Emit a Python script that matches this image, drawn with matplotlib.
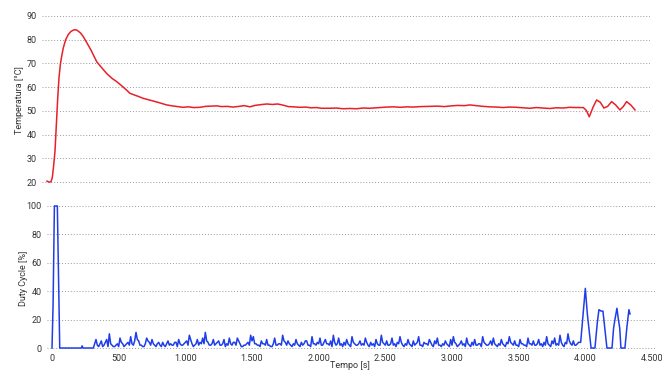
import matplotlib
matplotlib.use("Agg")
import matplotlib.pyplot as plt
from matplotlib.ticker import FuncFormatter
import numpy as np

# temperature trace [s], [°C]
temp_t = [0, 15, 30, 40, 50, 60, 70, 80, 90, 100, 110, 122, 140, 160, 180, 200, 215, 230,
          250, 272, 300, 330, 373, 410, 450, 490, 523, 560, 600, 622, 660, 690, 720, 760,
          800, 850, 898, 940, 980, 1020, 1060, 1100, 1147, 1190, 1230, 1273, 1310, 1350,
          1397, 1440, 1480, 1522, 1560, 1600, 1648, 1690, 1730, 1772, 1810, 1850, 1897,
          1940, 1980, 2020, 2060, 2122, 2170, 2220, 2270, 2323, 2370, 2420, 2497, 2550,
          2600, 2650, 2700, 2747, 2800, 2872, 2930, 2980, 3030, 3080, 3130, 3172, 3220,
          3270, 3320, 3373, 3420, 3470, 3520, 3570, 3622, 3670, 3720, 3770, 3820, 3872,
          3920, 3970, 4022, 4045, 4067, 4095, 4122, 4150, 4177, 4205, 4235, 4265, 4297,
          4322, 4347, 4380, 4410]
temp_v = [20.4, 20.0, 20.1, 22.0, 27.0, 33.0, 44.0, 55.0, 64.0, 69.5, 73.0, 76.5, 80.0,
          82.2, 83.5, 84.1, 84.2, 83.8, 82.9, 81.3, 78.6, 75.6, 70.7, 68.2, 65.6, 63.6,
          62.3, 60.6, 58.6, 57.4, 56.6, 56.0, 55.3, 54.7, 54.1, 53.3, 52.5, 52.1, 51.8,
          51.5, 51.7, 51.4, 51.5, 51.9, 52.0, 52.1, 51.8, 51.9, 51.6, 51.9, 52.2, 51.7,
          52.3, 52.6, 52.9, 52.7, 52.9, 52.4, 51.8, 51.7, 51.5, 51.6, 51.3, 51.4, 51.1,
          51.1, 51.2, 50.9, 51.0, 50.9, 51.2, 51.1, 51.4, 51.6, 51.7, 51.5, 51.7, 51.6,
          51.8, 51.9, 52.0, 51.8, 52.1, 52.3, 52.2, 52.5, 52.2, 51.9, 51.7, 51.6, 51.4,
          51.6, 51.5, 51.3, 51.1, 51.4, 51.2, 51.0, 51.3, 51.2, 51.5, 51.4, 51.4, 50.2,
          47.5, 51.5, 54.6, 53.6, 51.2, 51.9, 53.9, 52.5, 50.4, 51.8, 53.9, 52.4, 50.4]

# duty cycle [%]: start pulse, noisy regulation band, final oscillation
duty_start_t = [0, 8, 18, 40, 58, 80, 220, 226, 232, 310]
duty_start_v = [0, 30, 100, 100, 0, 0, 0, 1.5, 0, 0]

# regulation band, one sample every 10 s from 330 s
duty_mid_t0 = 330
duty_mid_dt = 10
duty_mid = [6, 2, 1, 3, 5, 1, 2, 4, 6, 1, 10, 3, 2, 1, 1, 2, 3, 1, 7, 4,
            3, 1, 2, 3, 4, 2, 8, 3, 2, 5, 11, 6, 5, 2, 2, 1, 1, 3, 7, 5,
            4, 2, 6, 3, 2, 1, 3, 4, 2, 1, 4, 2, 1, 3, 5, 2, 3, 2, 2, 4,
            4, 1, 6, 3, 2, 2, 3, 4, 5, 2, 9, 6, 3, 1, 2, 3, 6, 2, 4, 3,
            7, 3, 11, 5, 4, 2, 2, 3, 6, 2, 3, 4, 5, 2, 2, 3, 6, 1, 3, 2,
            7, 3, 2, 4, 4, 2, 7, 5, 3, 1, 1, 2, 2, 3, 4, 2, 9, 5, 8, 3,
            3, 2, 2, 1, 5, 3, 3, 2, 6, 2, 2, 1, 1, 3, 7, 2, 2, 3, 3, 2,
            9, 5, 4, 2, 5, 3, 2, 1, 3, 2, 6, 3, 2, 1, 4, 2, 3, 5, 5, 2,
            2, 1, 8, 3, 3, 2, 4, 3, 7, 2, 2, 4, 6, 3, 3, 2, 5, 1, 9, 4,
            2, 3, 7, 2, 3, 1, 4, 2, 6, 3, 2, 1, 8, 4, 3, 2, 2, 3, 5, 2,
            3, 2, 7, 4, 2, 1, 4, 2, 3, 1, 6, 3, 2, 2, 9, 4, 3, 2, 5, 2,
            2, 3, 7, 2, 3, 1, 4, 3, 8, 4, 2, 1, 3, 2, 6, 3, 2, 1, 5, 2,
            3, 4, 8, 2, 2, 1, 4, 3, 3, 2, 6, 4, 2, 1, 5, 3, 7, 2, 2, 1,
            3, 2, 5, 3, 2, 1, 6, 2, 8, 4, 3, 1, 2, 3, 5, 2, 3, 1, 7, 3,
            2, 1, 4, 2, 6, 2, 2, 3, 3, 1, 8, 4, 3, 2, 2, 3, 5, 2, 7, 3,
            2, 1, 3, 2, 6, 3, 2, 1, 4, 3, 8, 4, 3, 2, 5, 2, 2, 1, 6, 3,
            3, 2, 2, 1, 7, 3, 3, 2, 5, 2, 2, 3, 6, 2, 3, 1, 4, 2, 8, 3,
            2, 1, 5, 3, 7, 2, 3, 2, 9, 4, 2, 1, 4, 3, 10, 5, 3, 2, 5, 2,
            2, 3, 4]

duty_end_t = [3965, 3980, 4000, 4015, 4043, 4072, 4090, 4102, 4118, 4132, 4148, 4162,
              4200, 4212, 4222, 4237, 4248, 4258, 4267, 4297, 4312, 4327, 4335]
duty_end_v = [4, 20, 42, 24, 0, 0, 18, 27, 26, 26, 12, 0, 0, 14, 20, 28, 20, 14, 0, 0,
              15, 27, 24]

duty_mid_t = duty_mid_t0 + duty_mid_dt * np.arange(len(duty_mid))
duty_t = np.concatenate([duty_start_t, duty_mid_t, duty_end_t])
duty_v = np.concatenate([duty_start_v, duty_mid, duty_end_v])

temp_ticks = [20, 30, 40, 50, 60, 70, 80, 90]
duty_ticks = [0, 20, 40, 60, 80, 100]
time_ticks = [0, 500, 1000, 1500, 2000, 2500, 3000, 3500, 4000, 4500]

plt.rcParams['font.family'] = ['Roboto', 'DejaVu Sans']

W, H = 662, 371
fig = plt.figure(figsize=(W / 100, H / 100), dpi=100)
fig.patch.set_facecolor('white')


def px_axes(x0, y0, x1, y1):
    return fig.add_axes([x0 / W, 1 - y1 / H, (x1 - x0) / W, (y1 - y0) / H])


ax1 = px_axes(42, 13.6, 650, 185.6)
ax2 = px_axes(47, 203, 655, 350)

grid_kw = dict(color='#9a9a9a', linestyle=(0, (1, 2)), linewidth=0.7)
for ax in (ax1, ax2):
    for s in ax.spines.values():
        s.set_visible(False)
    ax.set_xlim(-37.5, 4522.5)
    ax.set_xticks(time_ticks)
    ax.tick_params(length=0, labelsize=6.5, labelcolor='#333333', pad=4)
    ax.yaxis.grid(True, **grid_kw)
    ax.set_axisbelow(True)

ax1.plot(temp_t, temp_v, color='#e8202a', linewidth=1.1, clip_on=False)
ax1.set_ylim(18.5, 91)
ax1.set_yticks(temp_ticks)
ax1.tick_params(axis='x', labelbottom=False)

ax2.plot(duty_t, duty_v, color='#1f3ee8', linewidth=1.1, clip_on=False)
ax2.set_ylim(-1.4, 102.1)
ax2.set_yticks(duty_ticks)
ax2.xaxis.set_major_formatter(FuncFormatter(lambda v, p: f"{int(v):,}".replace(',', '.')))
ax2.tick_params(axis='x', pad=3)

fig.text(20 / W, 1 - 100 / H, 'Temperatura [°C]', rotation=90, ha='center', va='center',
         fontsize=6.5, color='#333333')
fig.text(24 / W, 1 - 278 / H, 'Duty Cycle [%]', rotation=90, ha='center', va='center',
         fontsize=6.5, color='#333333')
fig.text(350 / W, 1 - 366 / H, 'Tempo [s]', ha='center', va='center',
         fontsize=6.5, color='#333333')

fig.savefig('out.png', dpi=100)
